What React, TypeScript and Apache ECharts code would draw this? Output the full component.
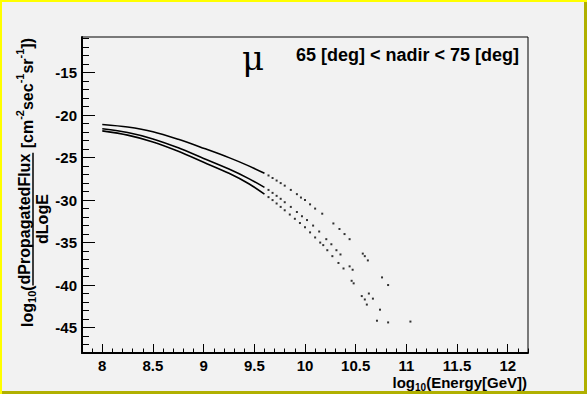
import React, { useEffect, useRef } from "react";
import * as echarts from "echarts";

// ---- axis ticks ----
const xMajorTicks = [8, 8.5, 9, 9.5, 10, 10.5, 11, 11.5, 12];
const yMajorTicks = [-45, -40, -35, -30, -25, -20, -15];
const X_MIN = 7.8, X_MAX = 12.2, Y_MIN = -48, Y_MAX = -10.8;

// ---- data ----
const denseX = [8.0, 8.25, 8.5, 8.75, 9.0, 9.25, 9.45, 9.6];
const topDenseY = [-21.1, -21.4, -21.95, -22.85, -23.9, -25.0, -26.0, -26.85];
const midDenseY = [-21.6, -22.05, -22.8, -23.85, -25.1, -26.35, -27.5, -28.5];
const botDenseY = [-21.85, -22.35, -23.15, -24.25, -25.55, -26.85, -28.1, -29.3];

const topSparseX = [9.64, 9.68, 9.72, 9.76, 9.8, 9.86, 9.92, 9.96, 10.0, 10.05, 10.1, 10.17, 10.28, 10.34, 10.39, 10.44, 10.57, 10.59, 10.62, 10.76, 10.82, 11.04];
const topSparseY = [-27.1, -27.4, -27.7, -28.0, -28.3, -28.8, -29.3, -29.7, -30.0, -30.5, -31.0, -31.6, -32.75, -33.4, -34.0, -34.6, -36.3, -36.6, -37.1, -39.1, -40.0, -44.3];
const midSparseX = [9.64, 9.68, 9.72, 9.76, 9.8, 9.86, 9.92, 9.97, 10.02, 10.08, 10.14, 10.21, 10.26, 10.31, 10.35, 10.44, 10.47, 10.63, 10.67, 10.74, 10.82];
const midSparseY = [-28.8, -29.15, -29.5, -29.85, -30.25, -30.8, -31.4, -31.9, -32.35, -33.0, -33.7, -34.6, -35.2, -35.9, -36.4, -37.8, -38.2, -41.0, -41.6, -42.9, -44.4];
const botSparseX = [9.64, 9.68, 9.72, 9.76, 9.8, 9.85, 9.9, 9.95, 10.0, 10.05, 10.1, 10.15, 10.18, 10.22, 10.27, 10.33, 10.38, 10.46, 10.48, 10.56, 10.59, 10.61, 10.71];
const botSparseY = [-29.65, -30.0, -30.4, -30.8, -31.2, -31.7, -32.2, -32.7, -33.2, -33.8, -34.4, -35.0, -35.3, -35.9, -36.6, -37.4, -38.05, -39.5, -39.8, -41.3, -41.7, -42.3, -44.2];

const zip = (xs: number[], ys: number[]) => xs.map((x, i) => [x, ys[i]]);

const FAM = '"Liberation Sans", Arial, Helvetica, sans-serif';
const font = (s: number) => `bold ${s}px ${FAM}`;

let ctx: CanvasRenderingContext2D | null = null;
function measure(t: string, f: string) {
  if (!ctx) ctx = document.createElement("canvas").getContext("2d");
  ctx!.font = f;
  return ctx!.measureText(t).width;
}

type Piece = { t: string; s: number; dy: number };

function buildPieces(pieces: Piece[], startX: number, baseY: number) {
  const out: any[] = [];
  let x = startX;
  for (const p of pieces) {
    const f = font(p.s);
    out.push({
      type: "text",
      x,
      y: baseY + p.dy,
      style: { text: p.t, font: f, fill: "#000", textAlign: "left", textVerticalAlign: "middle", align: "left", verticalAlign: "middle" },
    });
    x += measure(p.t, f);
  }
  return { els: out, end: x };
}

function piecesWidth(pieces: Piece[]) {
  return pieces.reduce((a, p) => a + measure(p.t, font(p.s)), 0);
}

export default function App() {
  const ref = useRef<HTMLDivElement>(null);
  useEffect(() => {
    document.body.style.margin = "0";
    const chart = echarts.init(ref.current!, null, { renderer: "svg", width: 587, height: 394 });

    const gl = 82, gt = 37, gw = 446, gh = 316;
    const xMinor: number[] = [];
    for (let i = 78; i <= 122; i++) if (i % 5 !== 0) xMinor.push(i / 10);
    const yMinor: number[] = [];
    for (let v = -48; v <= -11; v++) if (v % 5 !== 0) yMinor.push(v);

    const L = 15; // tick labels
    const M = 15, S = 10; // x title
    const YM = 16, YS = 11; // y title
    // x title
    const xt1: Piece[] = [
      { t: "log", s: M, dy: 0 },
      { t: "10", s: S, dy: 5 },
      { t: "(Energy[GeV])", s: M, dy: 0 },
    ];
    const xtW = piecesWidth(xt1);
    const xTitle = buildPieces(xt1, 527 - xtW, 382);

    // y title (rotated group, local coordinates)
    const yPre: Piece[] = [
      { t: "log", s: YM, dy: 0 },
      { t: "10", s: YS, dy: 5 },
      { t: "(", s: YM, dy: 0 },
    ];
    const yPost: Piece[] = [
      { t: " [cm", s: YM, dy: 0 },
      { t: "-2", s: YS, dy: -7 },
      { t: "sec", s: YM, dy: 0 },
      { t: "-1", s: YS, dy: -7 },
      { t: "sr", s: YM, dy: 0 },
      { t: "-1", s: YS, dy: -7 },
      { t: "])", s: YM, dy: 0 },
    ];
    const numT = "dPropagatedFlux", denT = "dLogE";
    const numW = measure(numT, font(YM)), denW = measure(denT, font(YM));
    const fracW = Math.max(numW, denW) + 2;
    const preW = piecesWidth(yPre), postW = piecesWidth(yPost);
    const totalW = preW + fracW + postW;
    const pre = buildPieces(yPre, 0, 0);
    const fx = pre.end;
    const fracEls = [
      { type: "text", x: fx + fracW / 2, y: -3, style: { text: numT, font: font(YM), fill: "#000", textAlign: "center", textVerticalAlign: "middle", align: "center", verticalAlign: "middle" } },
      { type: "line", shape: { x1: fx, y1: 6, x2: fx + fracW, y2: 6 }, style: { stroke: "#000", lineWidth: 1.5 } },
      { type: "text", x: fx + fracW / 2, y: 15, style: { text: denT, font: font(YM), fill: "#000", textAlign: "center", textVerticalAlign: "middle", align: "center", verticalAlign: "middle" } },
    ];
    const post = buildPieces(yPost, fx + fracW, 0);

    const lineSeries = (ys: number[]) => ({
      type: "line",
      data: zip(denseX, ys),
      smooth: 0.3,
      symbol: "none",
      lineStyle: { color: "#000", width: 1.6 },
      xAxisIndex: 0,
      yAxisIndex: 0,
    });
    const dotSeries = (xs: number[], ys: number[]) => ({
      type: "scatter",
      data: zip(xs, ys),
      symbol: "rect",
      symbolSize: 2,
      itemStyle: { color: "#000" },
      xAxisIndex: 0,
      yAxisIndex: 0,
    });

    const axisCommon = { min: X_MIN, max: X_MAX, type: "value", gridIndex: 0, position: "bottom", splitLine: { show: false } };
    const yCommon = { min: Y_MIN, max: Y_MAX, type: "value", gridIndex: 0, position: "left", splitLine: { show: false } };

    chart.setOption({
      animation: false,
      backgroundColor: "#f2f2f2",
      grid: { left: gl, top: gt, width: gw, height: gh, show: true, borderColor: "#000", borderWidth: 1, backgroundColor: "transparent" },
      xAxis: [
        {
          ...axisCommon,
          axisLine: { show: true, onZero: false, lineStyle: { color: "#000", width: 2 } },
          axisTick: { show: true, inside: true, length: 9, customValues: xMajorTicks, lineStyle: { color: "#000", width: 1 } },
          axisLabel: { show: true, customValues: xMajorTicks, margin: 5, color: "#000", fontWeight: "bold", fontSize: L, fontFamily: FAM },
        },
        {
          ...axisCommon,
          axisLine: { show: false },
          axisTick: { show: true, inside: true, length: 4.5, customValues: xMinor, lineStyle: { color: "#000", width: 1 } },
          axisLabel: { show: false },
        },
      ],
      yAxis: [
        {
          ...yCommon,
          axisLine: { show: true, onZero: false, lineStyle: { color: "#000", width: 2 } },
          axisTick: { show: true, inside: true, length: 13, customValues: yMajorTicks, lineStyle: { color: "#000", width: 1 } },
          axisLabel: { show: true, customValues: yMajorTicks, margin: 5, color: "#000", fontWeight: "bold", fontSize: L, fontFamily: FAM },
        },
        {
          ...yCommon,
          axisLine: { show: false },
          axisTick: { show: true, inside: true, length: 7, customValues: yMinor, lineStyle: { color: "#000", width: 1 } },
          axisLabel: { show: false },
        },
      ],
      series: [
        lineSeries(topDenseY),
        lineSeries(midDenseY),
        lineSeries(botDenseY),
        dotSeries(topSparseX, topSparseY),
        dotSeries(midSparseX, midSparseY),
        dotSeries(botSparseX, botSparseY),
      ],
      graphic: [
        { type: "rect", shape: { x: 0, y: 0, width: 587, height: 2 }, style: { fill: "#ffff00" }, silent: true },
        { type: "rect", shape: { x: 0, y: 0, width: 2, height: 394 }, style: { fill: "#ffff00" }, silent: true },
        { type: "rect", shape: { x: 584, y: 2, width: 3, height: 392 }, style: { fill: "#b0b000" }, silent: true },
        { type: "rect", shape: { x: 2, y: 391, width: 585, height: 3 }, style: { fill: "#b0b000" }, silent: true },
        {
          type: "text", x: 242, y: 58,
          style: { text: "\u03bc", font: `normal 34px "DejaVu Serif", "Liberation Serif", serif`, fill: "#000", textAlign: "left", textVerticalAlign: "middle", align: "left", verticalAlign: "middle" },
        },
        {
          type: "text", x: 296, y: 55,
          style: { text: "65 [deg] < nadir < 75 [deg]", font: font(18), fill: "#000", textAlign: "left", textVerticalAlign: "middle", align: "left", verticalAlign: "middle" },
        },
        ...xTitle.els,
        {
          type: "group",
          x: 27,
          y: 38 + totalW,
          rotation: Math.PI / 2,
          children: [...pre.els, ...fracEls, ...post.els],
        },
      ],
    });
    return () => chart.dispose();
  }, []);
  return <div ref={ref} style={{ position: "absolute", left: 0, top: 0, width: 587, height: 394 }} />;
}
